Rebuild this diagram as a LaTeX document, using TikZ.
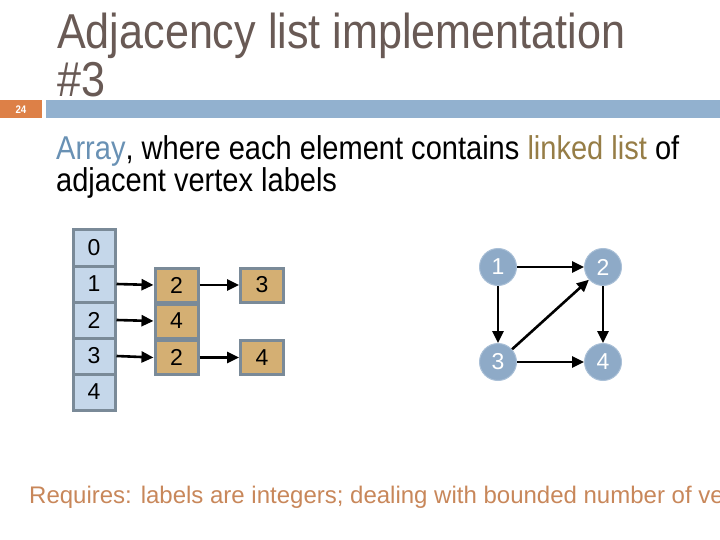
\documentclass[tikz,border=0pt]{standalone}
\usepackage{fontspec}
\setmainfont[FakeStretch=0.88]{Liberation Sans}
\newfontfamily\plainsans{Liberation Sans}
\usetikzlibrary{arrows.meta}
\definecolor{titlec}{RGB}{105,90,85}
\definecolor{barc}{RGB}{146,177,207}
\definecolor{orangec}{RGB}{221,128,71}
\definecolor{arrayc}{RGB}{105,145,180}
\definecolor{listc}{RGB}{150,125,70}
\definecolor{footc}{RGB}{200,135,90}
\definecolor{cellblue}{RGB}{197,215,234}
\definecolor{celltan}{RGB}{212,175,115}
\definecolor{cellborder}{RGB}{122,138,152}
\definecolor{vfill}{RGB}{142,170,199}
\definecolor{vborder}{RGB}{170,192,215}
\tikzset{
  arrcell/.style={draw=cellborder, line width=3pt, fill=cellblue, minimum width=42pt, minimum height=36pt, inner sep=0pt, font=\plainsans\fontsize{23}{24}\selectfont},
  listcell/.style={draw=cellborder, line width=3pt, fill=celltan, minimum width=43pt, minimum height=34pt, inner sep=0pt, font=\plainsans\fontsize{23}{24}\selectfont},
  vert/.style={circle, fill=vfill, draw=vborder, line width=1pt, minimum size=37pt, inner sep=0pt, text=white, font=\plainsans\fontsize{23}{24}\selectfont},
  ptr/.style={line width=2.6pt, -{Triangle[length=12pt,width=11pt]}},
}
\begin{document}
\begin{tikzpicture}[x=1pt,y=-1pt]
\useasboundingbox (0,0) rectangle (720,540);
% header
\fill[barc] (46,100) rectangle (720,118);
\fill[orangec] (0,100) rectangle (42,118);
\node[text=white, font=\fontsize{11}{12}\selectfont\bfseries] (pg) at (21,109.5) {24};
\node[anchor=base west, inner sep=0pt, text=titlec, font=\fontsize{49}{48}\selectfont] (t1) at (57,49) {Adjacency list implementation};
\node[anchor=base west, inner sep=0pt, text=titlec, font=\fontsize{49}{48}\selectfont] (t2) at (57,97) {\#3};
% body
\node[anchor=base west, inner sep=0pt, font=\fontsize{33}{34}\selectfont] (b1) at (56,160) {\textcolor{arrayc}{Array}, where each element contains \textcolor{listc}{linked list} of};
\node[anchor=base west, inner sep=0pt, font=\fontsize{33}{34}\selectfont] (b2) at (56,192) {adjacent vertex labels};
% array
\node[arrcell] (a0) at (94,248) {0};
\node[arrcell] (a1) at (94,284) {1};
\node[arrcell] (a2) at (94,320) {2};
\node[arrcell] (a3) at (94,356) {3};
\node[arrcell] (a4) at (94,392) {4};
% lists
\node[listcell] (l11) at (176.5,285) {2};
\node[listcell] (l12) at (262,285) {3};
\node[listcell] (l21) at (176.5,321) {4};
\node[listcell] (l31) at (176.5,357.5) {2};
\node[listcell] (l32) at (262,357.5) {4};
\draw[ptr] (a1.east) -- (l11.west);
\draw[ptr] (l11.east) -- (l12.west);
\draw[ptr] (a2.east) -- (l21.west);
\draw[ptr] (a3.east) -- (l31.west);
\draw[ptr] (l31.east) -- (l32.west);
% graph
\node[vert] (v1) at (498,267) {1};
\node[vert] (v2) at (603,267) {2};
\node[vert] (v3) at (498,362) {3};
\node[vert] (v4) at (603,362) {4};
\draw[ptr] (v1) -- (v2);
\draw[ptr] (v1) -- (v3);
\draw[ptr] (v2) -- (v4);
\draw[ptr] (v3) -- (v4);
\draw[ptr] (v3) -- (v2);
% footer
\node[anchor=base west, inner sep=0pt, text=footc, font=\plainsans\fontsize{24}{26}\selectfont] (ft) at (29,503) {Requires: labels are integers; dealing with bounded number of ve};
\end{tikzpicture}
\end{document}
